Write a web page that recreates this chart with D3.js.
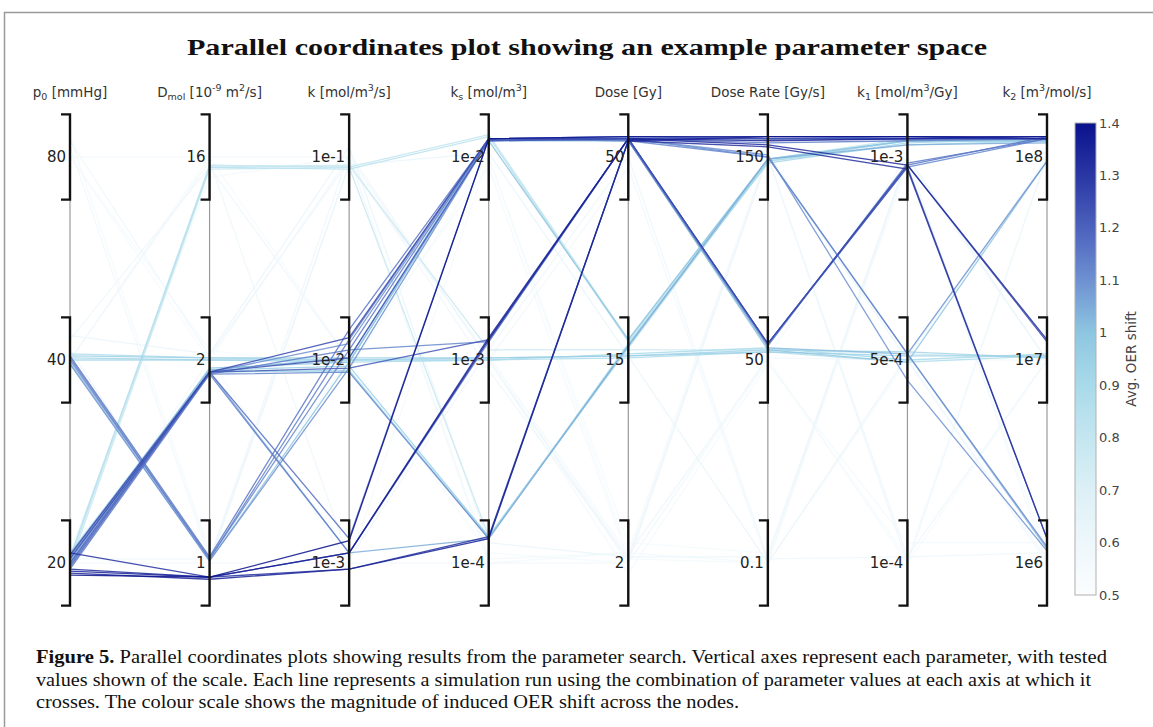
<!DOCTYPE html>
<html><head><meta charset="utf-8">
<script src="https://cdn.jsdelivr.net/npm/d3@7"></script>
<style>
html,body{margin:0;padding:0;background:#fff;}
svg{display:block;}
</style></head><body>
<svg id="chart" width="1153" height="727"></svg>
<script>
// Parameter axes, left to right
const axisKeys = ["p0", "Dmol", "k", "ks", "Dose", "DoseRate", "k1", "k2"];

// Axis headers as [text, role] pieces (role: "" normal, "sub", "sup")
const axisTitles = [
  [["p", ""], ["0", "sub"], [" [mmHg]", ""]],
  [["D", ""], ["mol", "sub"], [" [10", ""], ["-9", "sup"], [" m", ""], ["2", "sup"], ["/s]", ""]],
  [["k [mol/m", ""], ["3", "sup"], ["/s]", ""]],
  [["k", ""], ["s", "sub"], [" [mol/m", ""], ["3", "sup"], ["]", ""]],
  [["Dose [Gy]", ""]],
  [["Dose Rate [Gy/s]", ""]],
  [["k", ""], ["1", "sub"], [" [mol/m", ""], ["3", "sup"], ["/Gy]", ""]],
  [["k", ""], ["2", "sub"], [" [m", ""], ["3", "sup"], ["/mol/s]", ""]]
];

// Tested values on each axis, bottom level (0) to top level (2)
const tickLabels = [
  ["20", "40", "80"],
  ["1", "2", "16"],
  ["1e-3", "1e-2", "1e-1"],
  ["1e-4", "1e-3", "1e-2"],
  ["2", "15", "50"],
  ["0.1", "50", "150"],
  ["1e-4", "5e-4", "1e-3"],
  ["1e6", "1e7", "1e8"]
];

// Simulation runs: level crossed on each axis (0..2, spread inside each value's bracket)
const runLevels = [
  // strongest shifts: p0 20, Dmol 1, k 1e-3
  [-0.06, -0.07, 0.11, 2.09, 2.10, 2.10, 2.10, 2.10],
  [-0.04, -0.07, 0.05, 1.11, 2.09, 2.08, 2.09, 2.10],
  [-0.03, -0.07, 0.05, 1.10, 2.09, 2.06, 1.96, 1.10],
  [-0.05, -0.08, -0.03, 0.12, 2.08, 2.10, 2.10, 2.09],
  [0.05, -0.07, -0.03, 0.13, 2.08, 2.05, 1.94, 0.12],
  // p0 20, Dmol 2
  [0.04, 0.94, 1.11, 2.09, 2.09, 1.08, 1.96, 1.09],
  [0.02, 0.94, 1.01, 2.08, 2.09, 2.09, 2.09, 2.09],
  [0.00, 0.94, 0.96, 1.10, 2.09, 1.08, 1.95, 0.12],
  [-0.01, 0.93, 0.94, 0.12, 2.08, 2.00, 1.03, 0.08],
  [-0.02, 0.94, 0.12, 2.09, 2.10, 2.09, 2.09, 2.09],
  [-0.03, 0.93, 1.05, 2.09, 2.08, 1.07, 1.97, 2.09],
  [0.03, 0.93, 0.05, 1.09, 2.09, 2.07, 2.08, 2.09],
  [0.01, 0.94, 0.05, 0.12, 1.07, 1.99, 2.06, 2.07],
  // p0 40, Dmol 1
  [1.02, 0.03, 1.15, 2.09, 2.09, 1.08, 1.96, 2.10],
  [1.01, 0.02, 1.10, 2.09, 2.10, 2.09, 2.10, 2.09],
  [1.00, 0.02, 1.05, 1.09, 2.09, 1.08, 1.95, 2.09],
  [0.99, 0.01, 0.99, 2.08, 1.10, 1.99, 2.08, 2.08],
  [0.98, 0.01, 0.96, 2.08, 2.09, 2.00, 1.03, 1.98],
  // middle values throughout
  [1.02, 1.01, 1.01, 1.01, 1.02, 1.04, 1.02, 1.02],
  [1.01, 1.00, 1.00, 1.01, 1.02, 1.05, 1.04, 1.01],
  [1.00, 1.00, 0.99, 1.00, 1.03, 1.06, 1.00, 1.03],
  [1.03, 1.01, 1.00, 1.00, 1.01, 1.04, 0.99, 1.02],
  // mixed lighter runs
  [0.04, 0.95, 0.97, 0.13, 1.07, 1.99, 2.08, 2.08],
  [0.05, 0.94, 0.95, 0.12, 1.08, 1.97, 2.07, 2.09],
  [0.02, 0.95, 0.94, 0.13, 1.06, 1.98, 2.06, 2.08],
  [0.03, 1.95, 1.94, 2.10, 1.09, 1.98, 2.08, 2.09],
  [0.02, 1.96, 1.95, 2.11, 1.10, 1.99, 2.09, 2.08],
  [0.04, 0.95, 1.01, 2.09, 2.08, 1.06, 1.03, 0.07],
  [0.02, 0.96, 0.99, 2.08, 2.08, 1.05, 0.99, 1.98],
  [-0.01, 0.94, 1.08, 2.09, 2.09, 2.01, 0.90, 0.06],
  [0.01, 1.95, 1.96, 1.05, 1.05, 1.05, 1.03, 1.01],
  [-0.01, 1.94, 1.95, 0.13, 1.07, 1.98, 2.08, 2.08],
  // weak shifts
  [2.08, 1.02, 1.98, 0.95, 0.02, 2.00, 0.03, 0.05],
  [2.05, 0.02, 1.96, 1.02, 0.04, 1.01, 1.00, 0.02],
  [1.12, 1.03, 2.05, 0.10, 0.03, 0.03, 2.00, 1.00],
  [2.00, 1.05, 0.95, 2.00, 0.05, 1.00, 0.02, 2.00],
  [1.10, 1.95, 1.00, 1.00, 0.00, 2.00, 1.00, 0.00],
  [0.05, 1.90, 2.00, 0.02, 0.05, 0.00, 1.98, 1.00],
  [2.10, 0.05, 1.00, 1.95, 0.02, 0.00, 1.00, 2.00],
  [1.00, 1.98, 0.02, 1.05, 2.00, 0.02, 0.03, 1.00],
  [0.00, 1.00, 2.00, 1.00, 1.95, 0.00, 2.00, 0.00],
  [2.00, 2.00, 1.00, 0.05, 0.00, 1.00, 0.00, 1.00],
  [1.05, 0.00, 1.96, 2.02, 1.02, 0.00, 1.02, 1.98],
  [0.02, 0.02, 2.02, 1.00, 0.02, 2.00, 0.00, 2.00],
  [1.00, 1.00, 1.00, 1.00, -0.05, 0.98, 0.10, 0.10],
  [0.00, 0.00, 0.00, 0.00, 0.05, 2.02, 1.00, 1.00],
  [2.00, 1.00, 0.00, 2.00, 0.10, 0.05, 1.95, 0.05],
  [1.00, 2.00, 2.00, 0.00, 0.00, 1.02, 2.00, 1.00]
];

// Average OER shift of each run (same order as runLevels)
const runOER = [
  1.40, 1.36, 1.33, 1.35, 1.32,
  1.26, 1.24, 1.22, 1.12, 1.18, 1.15, 1.14, 1.05,
  1.16, 1.14, 1.12, 1.00, 1.10,
  0.95, 0.92, 0.90, 0.88,
  0.95, 0.92, 0.90, 0.85, 0.82, 1.02, 1.00, 1.10, 0.78, 0.78,
  0.60, 0.58, 0.62, 0.55, 0.60, 0.57, 0.56, 0.60, 0.58, 0.55, 0.62, 0.60, 0.56, 0.57, 0.55, 0.56
];

// Colour scale for OER shift
const colourStops = [0.5, 0.6, 0.7, 0.8, 0.9, 1.0, 1.1, 1.2, 1.3, 1.4];
const colourValues = ["#fbfdfe", "#eef7fb", "#dcf0f6", "#c4e6f0", "#a9daea", "#8ec6e1", "#6e91d1", "#4c62bd", "#2a37a4", "#0a128c"];
const colourTicks = [0.5, 0.6, 0.7, 0.8, 0.9, 1, 1.1, 1.2, 1.3, 1.4];

const captionLines = [
  [["Figure 5.", true], [" Parallel coordinates plots showing results from the parameter search. Vertical axes represent each parameter, with tested", false]],
  [["values shown of the scale. Each line represents a simulation run using the combination of parameter values at each axis at which it", false]],
  [["crosses. The colour scale shows the magnitude of induced OER shift across the nodes.", false]]
];
const captionWidths = [1071, 1055, 703];

const svg = d3.select("#chart");
const W = 1153, H = 727;

// Figure frame
svg.append("path")
  .attr("d", `M4.5,${H} V12.5 H${W}`)
  .attr("fill", "none").attr("stroke", "#9a9a9a").attr("stroke-width", 1.5);

// Title
svg.append("text")
  .attr("x", 187).attr("y", 55)
  .attr("textLength", 800).attr("lengthAdjust", "spacingAndGlyphs")
  .style("font-family", "'Liberation Serif', 'DejaVu Serif', serif")
  .style("font-weight", "bold").style("font-size", "24px").attr("fill", "#111")
  .text("Parallel coordinates plot showing an example parameter space");

const x = d3.scalePoint().domain(axisKeys).range([70, 1047]);
const y = d3.scaleLinear().domain([0, 2]).range([563, 157]);
const colour = d3.scaleLinear().domain(colourStops).range(colourValues).clamp(true);
const half = 0.21; // half-height of each value bracket, in levels

// Axis headers
axisTitles.forEach((parts, i) => {
  const t = svg.append("text")
    .attr("x", x(axisKeys[i])).attr("y", 97)
    .attr("text-anchor", "middle")
    .style("font-family", "'DejaVu Sans', Verdana, sans-serif")
    .style("font-size", "13.5px").attr("fill", "#333");
  parts.forEach(([s, role], j) => {
    const sp = t.append("tspan").text(s);
    const prev = j > 0 ? parts[j - 1][1] : "";
    let dy = 0;
    if (prev === "sub") dy -= 3;
    if (prev === "sup") dy += 6;
    if (role === "sub") { sp.attr("font-size", "9.5px"); dy += 3; }
    if (role === "sup") { sp.attr("font-size", "9.5px"); dy -= 6; }
    if (dy) sp.attr("dy", dy);
  });
});

// Grey axis spines
const gAxes = svg.append("g");
axisKeys.forEach(key => {
  gAxes.append("line")
    .attr("x1", x(key)).attr("x2", x(key))
    .attr("y1", y(2 + half)).attr("y2", y(-half))
    .attr("stroke", "#9a9a9a").attr("stroke-width", 1.2);
});

// Run polylines, low OER first so strong shifts sit on top
const line = d3.line().x(d => d[0]).y(d => d[1]);
const order = d3.range(runLevels.length).sort((a, b) => runOER[a] - runOER[b]);
svg.append("g").selectAll("path")
  .data(order)
  .join("path")
  .attr("d", r => line(runLevels[r].map((v, i) => [x(axisKeys[i]), y(v)])))
  .attr("fill", "none")
  .attr("stroke", r => colour(runOER[r]))
  .attr("stroke-width", 1.3)
  .attr("stroke-opacity", 0.85);

// Value brackets
const gBr = svg.append("g");
axisKeys.forEach(key => {
  const ax = x(key);
  [0, 1, 2].forEach(lv => {
    gBr.append("path")
      .attr("d", `M${ax - 9},${y(lv + half)} H${ax} V${y(lv - half)} H${ax - 9}`)
      .attr("fill", "none").attr("stroke", "#111").attr("stroke-width", 2.4);
  });
});

// Tick labels
const gLabels = svg.append("g")
  .style("font-family", "'DejaVu Sans', Verdana, sans-serif")
  .style("font-size", "15px").attr("fill", "#222");
axisKeys.forEach((key, i) => {
  tickLabels[i].forEach((lab, lv) => {
    gLabels.append("text")
      .attr("x", x(key) - 4).attr("y", y(lv)).attr("dy", "0.36em")
      .attr("text-anchor", "end").text(lab);
  });
});

// Colour bar
const cb = d3.scaleLinear().domain([0.5, 1.4]).range([595, 123]);
const defs = svg.append("defs");
const grad = defs.append("linearGradient").attr("id", "oerGrad")
  .attr("x1", 0).attr("y1", 1).attr("x2", 0).attr("y2", 0);
colourStops.forEach((v, i) => {
  grad.append("stop").attr("offset", (v - 0.5) / 0.9).attr("stop-color", colourValues[i]);
});
svg.append("rect")
  .attr("x", 1075).attr("y", cb(1.4)).attr("width", 21).attr("height", cb(0.5) - cb(1.4))
  .attr("fill", "url(#oerGrad)").attr("stroke", "#b0b0b0").attr("stroke-width", 1);
const gCb = svg.append("g")
  .style("font-family", "'DejaVu Sans', Verdana, sans-serif")
  .style("font-size", "13px").attr("fill", "#444");
colourTicks.forEach(v => {
  gCb.append("text").attr("x", 1099).attr("y", cb(v)).attr("dy", "0.35em").text(String(v));
});
svg.append("text")
  .attr("transform", "translate(1136,359) rotate(-90)")
  .attr("text-anchor", "middle")
  .style("font-family", "'DejaVu Sans', Verdana, sans-serif")
  .style("font-size", "13.5px").attr("fill", "#444")
  .text("Avg. OER shift");

// Caption
captionLines.forEach((parts, i) => {
  const t = svg.append("text")
    .attr("x", 36).attr("y", 663 + i * 22.5)
    .attr("textLength", captionWidths[i]).attr("lengthAdjust", "spacingAndGlyphs")
    .style("font-family", "'Liberation Serif', 'DejaVu Serif', serif")
    .style("font-size", "18px").attr("fill", "#111");
  parts.forEach(([s, bold]) => {
    t.append("tspan").text(s).style("font-weight", bold ? "bold" : "normal");
  });
});
</script>
</body></html>
